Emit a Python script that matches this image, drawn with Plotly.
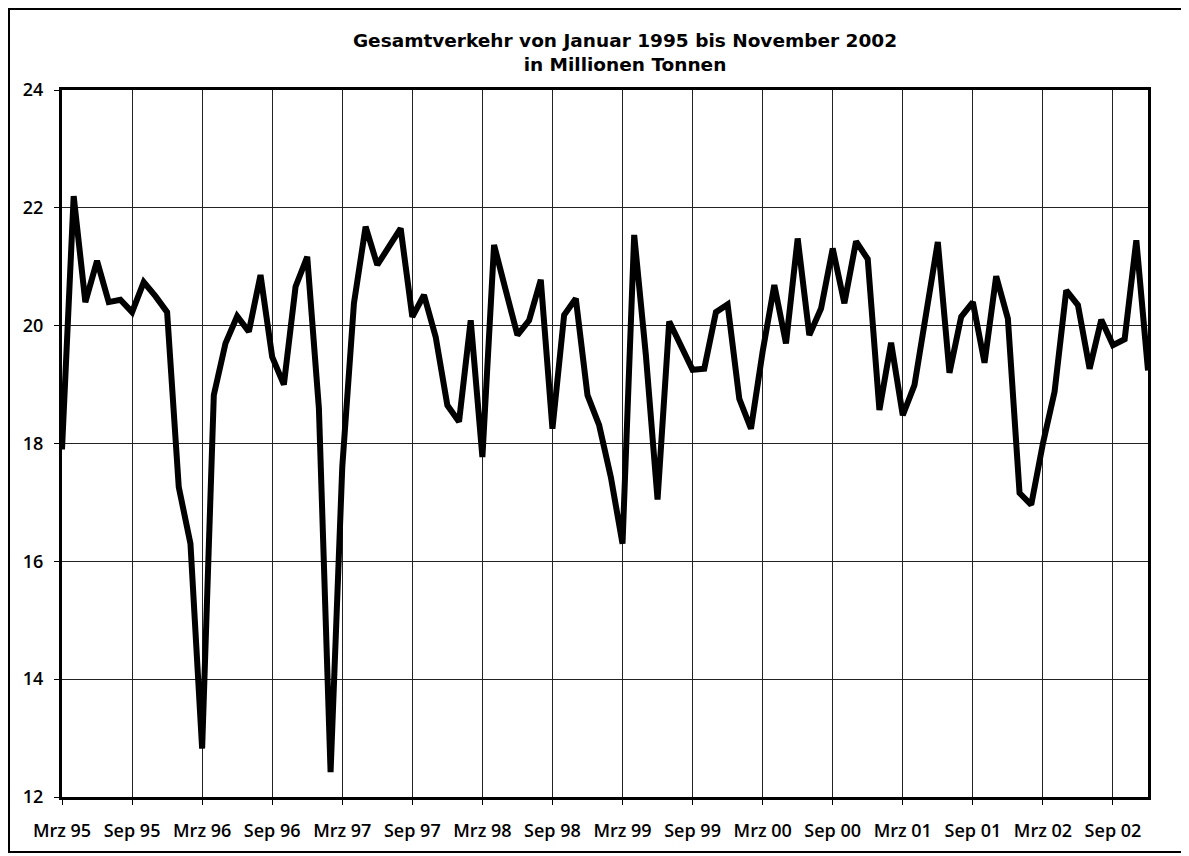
import plotly.graph_objects as go

# Monthly values (Mio. t)
values = [
    17.9, 22.2, 20.4, 21.1, 20.4, 20.44, 20.23, 20.74, 20.5, 20.23,
    17.26, 16.3, 12.82, 18.82, 19.7, 20.16, 19.9, 20.86, 19.47, 19.0,
    20.66, 21.17, 18.6, 12.42, 17.6, 20.38, 21.68, 21.03, 21.34, 21.65,
    20.15, 20.52, 19.81, 18.65, 18.37, 20.09, 17.77, 21.37, 20.6, 19.84,
    20.09, 20.78, 18.25, 20.18, 20.46, 18.82, 18.31, 17.43, 16.3, 21.54,
    19.5, 17.05, 20.07, 19.64, 19.25, 19.27, 20.23, 20.36, 18.76, 18.25,
    19.56, 20.69, 19.7, 21.48, 19.84, 20.29, 21.31, 20.38, 21.43, 21.13,
    18.57, 19.71, 18.48, 18.99, 20.2, 21.42, 19.2, 20.15, 20.4, 19.37,
    20.84, 20.12, 17.16, 16.96, 18.0, 18.88, 20.6, 20.35, 19.27, 20.1,
    19.67, 19.77, 21.45, 19.24,
]
months = list(range(len(values)))

tick_positions = [0, 6, 12, 18, 24, 30, 36, 42, 48, 54, 60, 66, 72, 78, 84, 90]
tick_labels = ["Mrz 95", "Sep 95", "Mrz 96", "Sep 96", "Mrz 97", "Sep 97",
               "Mrz 98", "Sep 98", "Mrz 99", "Sep 99", "Mrz 00", "Sep 00",
               "Mrz 01", "Sep 01", "Mrz 02", "Sep 02"]
y_ticks = [12, 14, 16, 18, 20, 22, 24]

title_text = "Gesamtverkehr von Januar 1995 bis November 2002<br>in Millionen Tonnen"

W, H = 1181, 848
L, T, R, B = 54, 82, 41, 59
PW, PH = W - L - R, H - T - B

fig = go.Figure()
fig.add_trace(go.Scatter(
    x=months, y=values, mode="lines",
    line=dict(color="black", width=6),
    hoverinfo="skip", showlegend=False,
))

FONT = "Open Sans"
TFONT = "DejaVu Sans"

fig.update_layout(
    width=W, height=H,
    margin=dict(l=L, r=R, t=T, b=B),
    paper_bgcolor="white", plot_bgcolor="white",
    font=dict(family=FONT, size=18, color="black"),
    title=dict(
        text=title_text,
        x=(617 - L) / PW, xref="paper", xanchor="center",
        y=1 - 39 / H, yanchor="top",
        font=dict(family=TFONT, size=18.5, color="black", weight="bold"),
    ),
    showlegend=False,
)

fig.update_xaxes(
    range=[0, len(values) - 1],
    tickmode="array", tickvals=tick_positions, ticktext=tick_labels,
    showgrid=True, gridcolor="#222", gridwidth=1,
    showline=True, linecolor="black", linewidth=3, mirror=True,
    ticks="outside", ticklen=5, tickwidth=1, tickcolor="black",
    ticklabelstandoff=10,
    tickfont=dict(family=FONT, size=18, color="black", weight=600),
    zeroline=False,
)
fig.update_yaxes(
    range=[12, 24],
    tickmode="array", tickvals=y_ticks,
    showgrid=True, gridcolor="#222", gridwidth=1,
    showline=True, linecolor="black", linewidth=3, mirror=True,
    ticks="outside", ticklen=5, tickwidth=1, tickcolor="black",
    ticklabelstandoff=7,
    tickfont=dict(family=FONT, size=18, color="black", weight=600),
    zeroline=False,
)

# outer frame of the chart area
fig.add_shape(
    type="rect", xref="paper", yref="paper",
    x0=(1 - L) / PW, x1=(1176 - L) / PW,
    y0=(PH + T - 844) / PH, y1=(PH + T - 1) / PH,
    line=dict(color="black", width=2), fillcolor="rgba(0,0,0,0)",
    layer="below",
)

fig.write_html("out.html")
